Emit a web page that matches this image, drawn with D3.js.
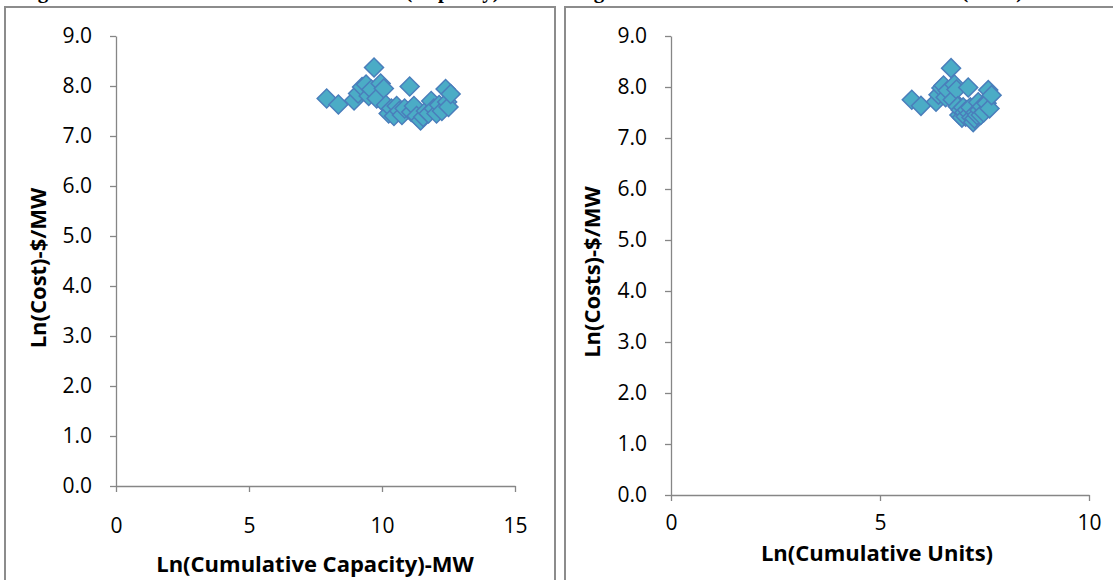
<!DOCTYPE html>
<html><head><meta charset="utf-8">
<script src="https://cdn.jsdelivr.net/npm/d3@7"></script>
<style>
html,body{margin:0;padding:0;background:#fff;}
svg{display:block;}
</style></head>
<body>
<svg id="c" width="1113" height="580"></svg>
<script>
// Data
const lnCumCapacity = [7.92,8.36,8.95,9.10,9.25,9.40,9.50,9.60,9.70,9.80,9.95,10.07,10.15,10.25,10.35,10.45,10.55,10.65,10.75,10.85,11.04,11.10,11.20,11.30,11.45,11.55,11.65,11.75,11.85,11.95,12.05,12.15,12.25,12.39,12.45,12.50,12.58];
const lnCumUnits    = [5.76,5.98,6.34,6.40,6.47,6.52,6.57,6.62,6.70,6.74,6.78,6.83,6.86,6.90,6.93,6.96,6.99,7.02,7.05,7.08,7.11,7.14,7.16,7.19,7.23,7.26,7.29,7.32,7.35,7.38,7.41,7.44,7.48,7.59,7.55,7.62,7.67];
const lnCost        = [7.75,7.63,7.71,7.85,7.98,8.03,7.80,7.93,8.37,7.75,8.05,7.95,7.62,7.45,7.55,7.40,7.60,7.50,7.42,7.55,7.99,7.48,7.60,7.40,7.31,7.38,7.50,7.45,7.70,7.55,7.45,7.62,7.50,7.94,7.68,7.58,7.84];
const yTicks = [0,1,2,3,4,5,6,7,8,9];
const xTicksLeft = [0,5,10,15];
const xTicksRight = [0,5,10];
const titles = ["Figure 6: Onshore Wind Farm Cost Curve (Capacity)", "Figure 7: Onshore Wind Farm Cost Curve (Units)"];

const svg = d3.select("#c");
const font = "'Open Sans', 'Noto Sans', sans-serif";
const axisColor = "#868686";

// Panel borders
svg.append("rect").attr("x",5).attr("y",7).attr("width",550).attr("height",600)
  .attr("fill","none").attr("stroke","#8c8c8c").attr("stroke-width",2);
svg.append("rect").attr("x",565).attr("y",7).attr("width",560).attr("height",600)
  .attr("fill","none").attr("stroke","#8c8c8c").attr("stroke-width",2);

// Clipped title text (only descenders visible)
svg.append("text").attr("x",19).attr("y",-2).attr("font-family","'Liberation Serif', serif")
  .attr("font-weight","bold").attr("font-size",21).text(titles[0]);
svg.append("text").attr("x",575).attr("y",-2).attr("font-family","'Liberation Serif', serif")
  .attr("font-weight","bold").attr("font-size",21).text(titles[1]);

function panel(cfg){
  const x = d3.scaleLinear().domain(cfg.xDomain).range([cfg.x0,cfg.x1]);
  const y = d3.scaleLinear().domain([0,9]).range([cfg.y0,cfg.y1]);
  const g = svg.append("g");
  const ya = g.append("g").attr("transform",`translate(${cfg.x0},0)`)
    .call(d3.axisLeft(y).tickValues(yTicks).tickFormat(d3.format(".1f")).tickSize(6).tickSizeOuter(0).tickPadding(18));
  const xa = g.append("g").attr("transform",`translate(0,${cfg.y0})`)
    .call(d3.axisBottom(x).tickValues(cfg.xTicks).tickFormat(d3.format("d")).tickSize(6).tickSizeOuter(0).tickPadding(cfg.xPad));
  [ya,xa].forEach(a=>{
    a.select(".domain").attr("stroke",axisColor).attr("stroke-width",1.3);
    a.selectAll(".tick line").attr("stroke",axisColor).attr("stroke-width",1.3);
    a.selectAll(".tick text").attr("fill","#000").attr("font-family",font).attr("font-size",21);
  });
  g.append("text").attr("transform",`translate(${cfg.yTitleX},${cfg.yTitleY}) rotate(-90)`)
    .attr("text-anchor","middle").attr("dominant-baseline","central").attr("font-family",font).attr("font-weight","bold").attr("font-size",22)
    .text(cfg.yTitle);
  g.append("text").attr("x",cfg.xTitleX).attr("y",cfg.xTitleY)
    .attr("text-anchor","middle").attr("dominant-baseline","central").attr("font-family",font).attr("font-weight","bold").attr("font-size",22)
    .text(cfg.xTitle);
  const sym = d3.symbol().type(d3.symbolSquare).size(180);
  g.append("g").selectAll("path").data(cfg.xs.map((v,i)=>[v,lnCost[i]])).join("path")
    .attr("d",sym)
    .attr("transform",d=>`translate(${x(d[0])},${y(d[1])}) rotate(45)`)
    .attr("fill","#4bacc6").attr("stroke","#4a7ebb").attr("stroke-width",1.5);
}

panel({xDomain:[0,15], x0:116, x1:515, y0:486, y1:36, xTicks:xTicksLeft, xPad:26,
  yTitle:"Ln(Cost)-$/MW", yTitleX:37, yTitleY:268, xTitle:"Ln(Cumulative Capacity)-MW", xTitleX:315, xTitleY:563, xs:lnCumCapacity});
panel({xDomain:[0,10], x0:671, x1:1089, y0:495, y1:36, xTicks:xTicksRight, xPad:14,
  yTitle:"Ln(Costs)-$/MW", yTitleX:591, yTitleY:272, xTitle:"Ln(Cumulative Units)", xTitleX:877, xTitleY:552, xs:lnCumUnits});
</script>
</body></html>
